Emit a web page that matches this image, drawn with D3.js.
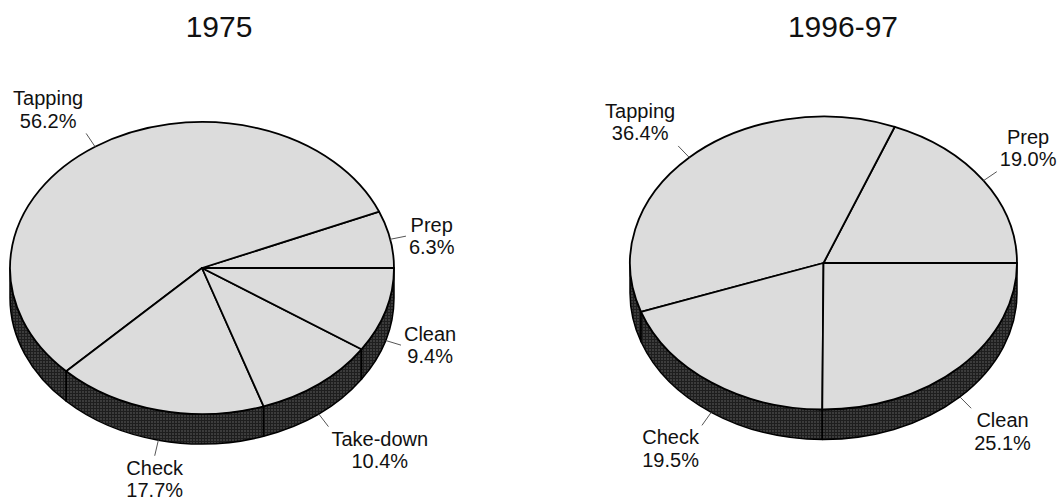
<!DOCTYPE html>
<html>
<head>
<meta charset="utf-8">
<script src="https://cdn.jsdelivr.net/npm/d3@7"></script>
<style>
  html, body { margin: 0; padding: 0; background: #fff; }
  svg { display: block; font-family: "Liberation Sans", Arial, Helvetica, sans-serif; }
</style>
</head>
<body>
<svg id="chart" width="1062" height="504"></svg>
<script>
// Share of work time by task, two survey periods
const titles = ["1975", "1996-97"];
const tasks1975 = ["Prep", "Tapping", "Check", "Take-down", "Clean"];
const shares1975 = [6.3, 56.2, 17.7, 10.4, 9.4];
const tasks9697 = ["Prep", "Tapping", "Check", "Clean"];
const shares9697 = [19.0, 36.4, 19.5, 25.1];

// Layout of the two tilted pies
const pies = [
  { title: titles[0], names: tasks1975, values: shares1975, cx: 202, cy: 268, rx: 192, ry: 146, titleX: 219 },
  { title: titles[1], names: tasks9697, values: shares9697, cx: 823.5, cy: 263, rx: 193.5, ry: 146.5, titleX: 843 }
];
const depth = 30;
const fmt = d3.format(".1f");

const svg = d3.select("#chart");

// stippled texture for the pie walls
const defs = svg.append("defs");
const pat = defs.append("pattern")
  .attr("id", "wall").attr("width", 3).attr("height", 3)
  .attr("patternUnits", "userSpaceOnUse");
pat.append("rect").attr("width", 3).attr("height", 3).attr("fill", "#3c3c3c");
pat.append("path").attr("d", "M0 0.5H3M0.5 0V3").attr("stroke", "#1e1e1e").attr("stroke-width", 1);

// Pie layout: first slice starts at 3 o'clock and runs counter-clockwise
const pieGen = d3.pie().sort(null).value(d => d.value)
  .startAngle(Math.PI / 2).endAngle(Math.PI / 2 - 2 * Math.PI);

pies.forEach(p => {
  const { cx, cy, rx, ry } = p;
  const data = p.names.map((n, i) => ({ name: n, value: p.values[i] }));
  const arcs = pieGen(data).map(a => {
    // convert to math angles (counter-clockwise from +x)
    const phi0 = Math.PI / 2 - a.startAngle;
    const phi1 = Math.PI / 2 - a.endAngle;
    return Object.assign(a, { phi0, phi1 });
  });

  const pt = (phi, dy = 0) => [cx + rx * Math.cos(phi), cy - ry * Math.sin(phi) + dy];

  const g = svg.append("g");

  // title
  g.append("text")
    .attr("x", p.titleX).attr("y", 37)
    .attr("text-anchor", "middle")
    .attr("font-size", 30).attr("fill", "#111")
    .text(p.title);

  // walls (front half only: angles between pi and 2pi)
  const walls = [];
  arcs.forEach(a => {
    const s = Math.max(a.phi0, Math.PI), e = Math.min(a.phi1, 2 * Math.PI);
    if (e > s) walls.push({ s, e });
  });
  g.selectAll("path.wall").data(walls).join("path")
    .attr("class", "wall")
    .attr("d", w => {
      const a = pt(w.s), b = pt(w.e), b2 = pt(w.e, depth), a2 = pt(w.s, depth);
      return `M${a}A${rx},${ry} 0 0 0 ${b}L${b2}A${rx},${ry} 0 0 1 ${a2}Z`;
    })
    .attr("fill", "url(#wall)")
    .attr("stroke", "#000").attr("stroke-width", 1.5)
    .attr("stroke-linejoin", "round");

  // top faces
  const arcGen = d3.arc().innerRadius(0).outerRadius(rx);
  g.append("g")
    .attr("transform", `translate(${cx},${cy}) scale(1,${ry / rx})`)
    .selectAll("path").data(arcs).join("path")
    .attr("d", arcGen)
    .attr("fill", "#dcdcdc")
    .attr("stroke", "#000").attr("stroke-width", 1.8)
    .attr("stroke-linejoin", "round")
    .attr("vector-effect", "non-scaling-stroke");

  // leader lines and labels
  arcs.forEach(a => {
    const mid = (a.phi0 + a.phi1) / 2;
    const ux = Math.cos(mid), uy = -Math.sin(mid);
    const onFront = Math.sin(mid) < 0;
    const P = pt(mid, onFront ? depth : 0);
    const len = 16;
    const E = [P[0] + ux * len, P[1] + uy * len];

    g.append("line")
      .attr("x1", P[0]).attr("y1", P[1]).attr("x2", E[0]).attr("y2", E[1])
      .attr("stroke", "#555").attr("stroke-width", 1);

    const t = g.append("text")
      .attr("font-size", 20).attr("fill", "#111")
      .attr("text-anchor", "middle");
    const l1 = t.append("tspan").text(a.data.name);
    const l2 = t.append("tspan").text(fmt(a.data.value) + "%");
    const w = Math.max(l1.node().getComputedTextLength(), l2.node().getComputedTextLength());
    const h = 37;
    const sx = Math.abs(ux) < 0.3 ? 0 : Math.sign(ux);
    const sy = Math.abs(uy) < 0.35 ? 0 : Math.sign(uy);
    const C = [E[0] + sx * (w / 2 + 3), E[1] + sy * (h / 2 + 5)];
    const base1 = C[1] - h / 2 + 14;
    l1.attr("x", C[0]).attr("y", base1);
    l2.attr("x", C[0]).attr("y", base1 + 22.5);
  });
});
</script>
</body>
</html>
